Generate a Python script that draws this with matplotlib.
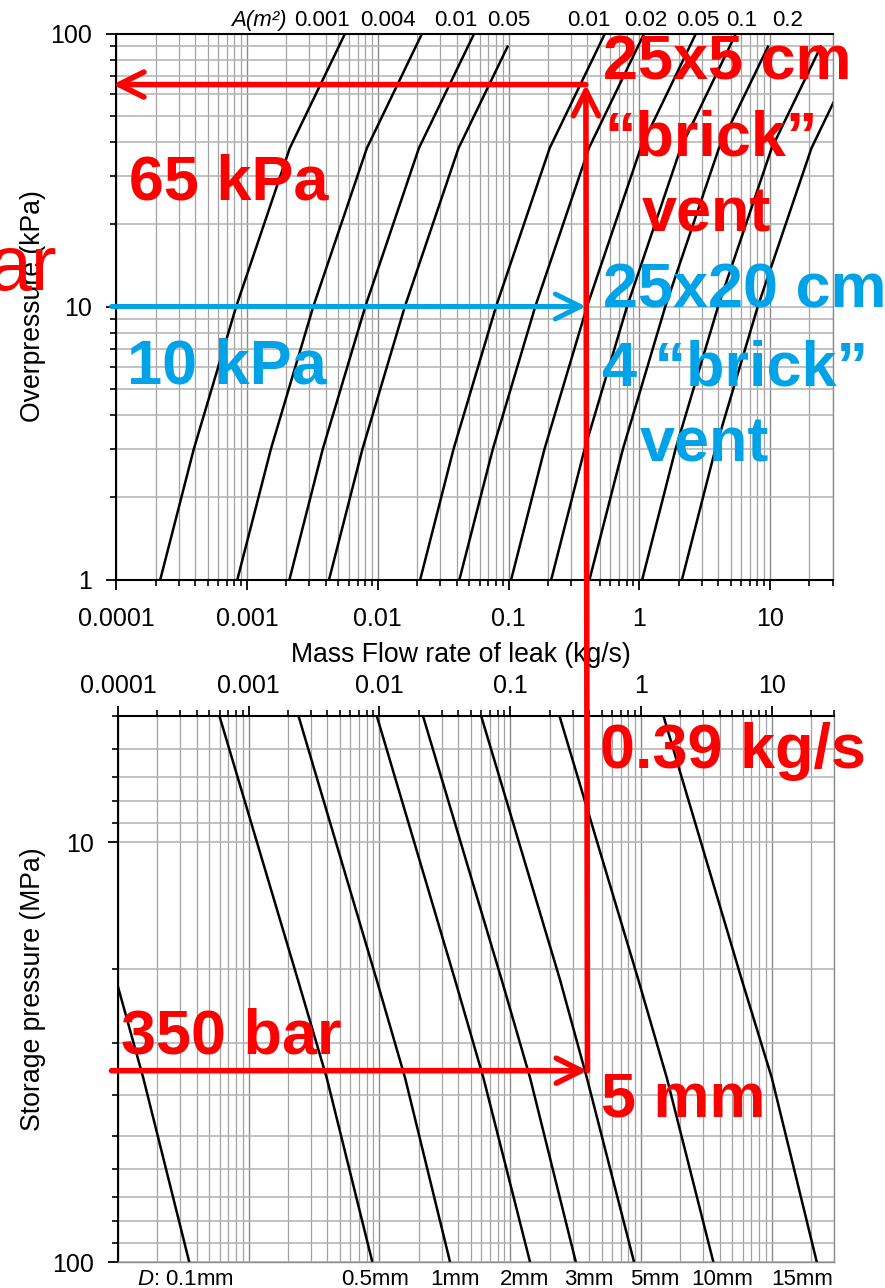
import numpy as np
import matplotlib.pyplot as plt
from matplotlib.patches import ConnectionPatch
from matplotlib.ticker import FixedLocator, FixedFormatter, LogLocator, NullFormatter

plt.rcParams['font.family'] = ['Liberation Sans', 'DejaVu Sans']
plt.rcParams['mathtext.fontset'] = 'custom'
plt.rcParams['mathtext.rm'] = 'Liberation Sans'
plt.rcParams['mathtext.it'] = 'Liberation Sans:italic'

# shared mass flow axis (kg/s)
flow_ticks = [1e-4, 1e-3, 1e-2, 1e-1, 1, 10]
flow_tick_labels = ["0.0001", "0.001", "0.01", "0.1", "1", "10"]

# vented deflagration: overpressure (kPa) vs leak rate for several vent areas
vent_p = [1, 3, 10, 38, 100]
vent_p_end = [100, 100, 100, 89.5, 100, 100, 100, 100, 89.5, 89.5, 100]
vent_flows = [
    [2.17e-4, 3.91e-4, 8.26e-4, 2.12e-3, 5.62e-3],
    [8.43e-4, 1.52e-3, 3.21e-3, 8.24e-3, 0.0218],
    [2.11e-3, 3.79e-3, 8.02e-3, 0.0206, 0.0546],
    [4.24e-3, 7.62e-3, 0.0161, 0.0414, 0.0982],
    [0.0211, 0.0379, 0.0802, 0.206, 0.546],
    [0.0421, 0.0757, 0.160, 0.411, 1.089],
    [0.1047, 0.188, 0.398, 1.023, 2.71],
    [0.212, 0.381, 0.805, 2.07, 5.48],
    [0.416, 0.748, 1.58, 4.06, 9.64],
    [1.052, 1.89, 4.00, 10.28, 24.4],
    [2.12, 3.81, 8.05, 20.7, 54.8],
]
area_labels = ["0.001", "0.004", "0.01", "0.05", "0.01", "0.02", "0.05", "0.1", "0.2"]
overp_ticks = [1, 10, 100]
overp_tick_labels = ["1", "10", "100"]

# leak through a round hole: storage pressure (MPa) vs leak rate
orifice_p = [
    [22.1, 36.4, 100],
    [5, 21.3, 36.4, 100],
    [5, 21.3, 36.4, 100],
    [5, 21.3, 36.4, 100],
    [5, 21.3, 36.4, 100],
    [5, 21.3, 36.4, 100],
    [5, 21.3, 36.4, 100],
    [5, 21.3, 36.4, 100],
]
orifice_flows = [
    [1.0e-4, 1.56e-4, 3.51e-4],
    [5.96e-4, 2.38e-3, 3.95e-3, 8.83e-3],
    [2.40e-3, 9.53e-3, 0.0157, 0.0347],
    [9.53e-3, 0.0379, 0.0624, 0.142],
    [0.0215, 0.0862, 0.142, 0.318],
    [0.0599, 0.241, 0.386, 0.887],
    [0.238, 0.957, 1.578, 3.586],
    [1.486, 5.92, 10.03, 22.17],
]
diam_labels = ["$\\it{D}$: 0.1mm", "0.5mm", "1mm", "2mm", "3mm", "5mm", "10mm", "15mm"]
storage_ticks = [10, 100]
storage_tick_labels = ["10", "100"]

# worked example
leak_rate = 0.39      # kg/s
storage_mark = 35     # MPa (350 bar)
overp_brick = 65      # kPa, 25x5 cm brick vent
overp_brick4 = 10     # kPa, 4 brick vent

RED = '#FF0000'
BLUE = '#00A2E8'
W, H = 885, 1288


def fx(px):
    return px / W


def fy(py):
    return 1 - py / H


def style_log_axes(ax, yticks, ylabels):
    ax.set_xscale('log')
    ax.set_yscale('log')
    ax.set_xlim(1e-4, 30)
    ax.xaxis.set_major_locator(FixedLocator(flow_ticks))
    ax.xaxis.set_major_formatter(FixedFormatter(flow_tick_labels))
    ax.xaxis.set_minor_locator(LogLocator(base=10, subs=np.arange(2, 10), numticks=30))
    ax.xaxis.set_minor_formatter(NullFormatter())
    ax.yaxis.set_major_locator(FixedLocator(yticks))
    ax.yaxis.set_major_formatter(FixedFormatter(ylabels))
    ax.yaxis.set_minor_locator(LogLocator(base=10, subs=np.arange(2, 10), numticks=30))
    ax.yaxis.set_minor_formatter(NullFormatter())
    ax.grid(which='major', axis='x', color='#8a8a8a', lw=1.0)
    ax.grid(which='minor', axis='x', color='#a2a2a2', lw=0.9)
    ax.grid(which='both', axis='y', color='#b2b2b2', lw=1.1)
    ax.set_axisbelow(True)
    ax.tick_params(which='major', direction='out', length=7.5, width=1.3, labelsize=18)
    ax.tick_params(which='minor', direction='out', length=4, width=1.2)
    ax.tick_params(axis='y', which='major', pad=10)
    for s in ax.spines.values():
        s.set_linewidth(1.5)
        s.set_color('black')
    ax.spines['right'].set_color('#8c8c8c')
    ax.spines['right'].set_linewidth(1.0)


fig = plt.figure(figsize=(W / 100, H / 100), dpi=100)

# top: overpressure chart
ax1 = fig.add_axes([fx(116.3), fy(579.5), 716.2 / W, 546 / H])
style_log_axes(ax1, overp_ticks, overp_tick_labels)
ax1.set_ylim(1, 100)
ax1.tick_params(axis='x', which='major', pad=12)
for flows, p_end in zip(vent_flows, vent_p_end):
    ax1.plot(flows, vent_p[:-1] + [p_end], color='black', lw=1.8)

ax1.set_xlabel('Mass Flow rate of leak (kg/s)', fontsize=19.2, va='center')
ax1.xaxis.set_label_coords(0.481, -0.1383)
ax1.set_ylabel('Overpressure (kPa)', fontsize=19.2, va='center')
ax1.yaxis.set_label_coords(-0.117, 0.5)

area_label_x = [3.75e-3, 0.01193, 0.0396, 0.1007, 0.4137, 1.125, 2.80, 6.10, 13.66]
top_tr = ax1.get_xaxis_transform()
ax1.text(1.236e-3, 1.0137, 'A(m²)', transform=top_tr, ha='center', va='baseline',
         fontsize=16, fontstyle='italic', clip_on=False)
for lx, lab in zip(area_label_x, area_labels):
    ax1.text(lx, 1.0137, lab, transform=top_tr, ha='center', va='baseline',
             fontsize=16, clip_on=False)

# bottom: storage pressure chart (pressure grows downwards)
ax2 = fig.add_axes([fx(118), fy(1262.2), 716 / W, 546.5 / H])
style_log_axes(ax2, storage_ticks, storage_tick_labels)
ax2.set_ylim(100, 5)
ax2.xaxis.tick_top()
ax2.tick_params(axis='x', which='both', top=True, bottom=False, labeltop=True, labelbottom=False)
ax2.tick_params(axis='x', which='major', pad=5.5)
ax2.spines['top'].set_color('black')
ax2.spines['bottom'].set_color('#8c8c8c')
ax2.spines['bottom'].set_linewidth(1.0)
for flows, p in zip(orifice_flows, orifice_p):
    ax2.plot(flows, p, color='black', lw=1.8)

ax2.set_ylabel('Storage pressure (MPa)', fontsize=19.2, va='center')
ax2.yaxis.set_label_coords(-0.1194, 0.5)

diam_label_x = [3.26e-4, 9.3e-3, 0.0379, 0.128, 0.400, 1.266, 4.22, 17.27]
bot_tr = ax2.get_xaxis_transform()
for lx, lab in zip(diam_label_x, diam_labels):
    ax2.text(lx, -0.042, lab, transform=bot_tr, ha='center', va='baseline',
             fontsize=16, clip_on=False)

# worked example arrows
arrow_style = '->,head_length=1.8,head_width=0.9'
red_kw = dict(arrowstyle=arrow_style, mutation_scale=10, lw=4, color=RED,
              shrinkA=0, shrinkB=0, clip_on=False, zorder=5)
blue_kw = dict(red_kw, color=BLUE, lw=3.6)

fig.add_artist(ConnectionPatch((-0.009, storage_mark), (leak_rate, storage_mark),
                               coordsA=ax2.get_yaxis_transform(), coordsB=ax2.transData, **red_kw))
fig.add_artist(ConnectionPatch((leak_rate, storage_mark), (leak_rate, overp_brick),
                               coordsA=ax2.transData, coordsB=ax1.transData, **red_kw))
fig.add_artist(ConnectionPatch((leak_rate, overp_brick), (-0.005, overp_brick),
                               coordsA=ax1.transData, coordsB=ax1.get_yaxis_transform(), **red_kw))
fig.add_artist(ConnectionPatch((-0.0065, overp_brick4), (leak_rate, overp_brick4),
                               coordsA=ax1.get_yaxis_transform(), coordsB=ax1.transData, **blue_kw))

big = dict(fontsize=45.4, fontweight='bold', va='baseline', ha='left', zorder=6)
fig.text(fx(129), fy(200), f'{overp_brick} kPa', color=RED, **big)
fig.text(fx(127), fy(383), f'{overp_brick4} kPa', color=BLUE, **big)
fig.text(fx(603), fy(80), '25x5 cm', color=RED, **big)
fig.text(fx(604), fy(155), '\u201cbrick\u201d', color=RED, **big)
fig.text(fx(642), fy(232), 'vent', color=RED, **big)
fig.text(fx(603), fy(308), '25x20 cm', color=BLUE, **big)
fig.text(fx(602), fy(385), '4 \u201cbrick\u201d', color=BLUE, **big)
fig.text(fx(640), fy(461.7), 'vent', color=BLUE, **big)
fig.text(fx(600.5), fy(768.3), f'{leak_rate} kg/s', color=RED, **big)
fig.text(fx(121), fy(1054), f'{storage_mark * 10} bar', color=RED, **big)
fig.text(fx(601), fy(1116.7), '5 mm', color=RED, **big)
fig.text(fx(-11), fy(290), 'ar', color=RED, fontsize=55.5, va='baseline', ha='left', zorder=6)

fig.savefig('out.png', dpi=100)
